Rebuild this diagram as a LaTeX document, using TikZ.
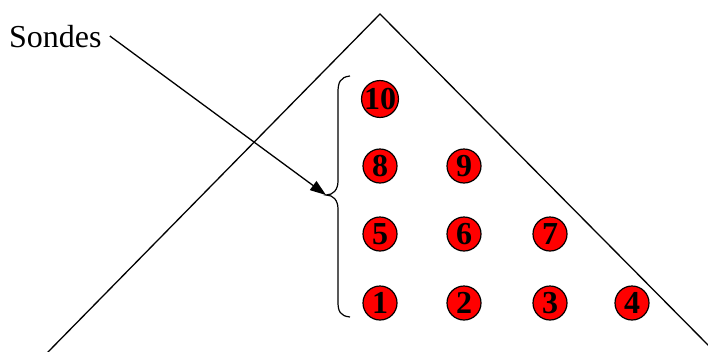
\documentclass[tikz,border=0pt]{standalone}
\usepackage{fontspec}
\setmainfont{Liberation Serif}
\usetikzlibrary{arrows.meta}
\begin{document}
\begin{tikzpicture}[x=1pt,y=-1pt,
  probe/.style={circle,draw=black,line width=1.2pt,fill=red,minimum size=34pt,inner sep=0pt,font=\fontsize{32}{32}\selectfont\bfseries},
  edge/.style={line width=1.3pt,black}]
\useasboundingbox (0,0) rectangle (708,351);
% triangle
\coordinate (apex) at (380,14);
\coordinate (bl) at (47,353);
\coordinate (br) at (710,347);
\draw[edge] (bl) -- (apex) -- (br);
% probes
\node[probe] (p10) at (380,99) {\kern-1pt10\kern-1pt};
\node[probe] (p8) at (380,166) {8};
\node[probe] (p9) at (464,166) {9};
\node[probe] (p5) at (380,234) {5};
\node[probe] (p6) at (464,234) {6};
\node[probe] (p7) at (550,234) {7};
\node[probe] (p1) at (380,303) {1};
\node[probe] (p2) at (464,303) {2};
\node[probe] (p3) at (550,303) {3};
\node[probe] (p4) at (632,303) {4};
% brace
\coordinate (btop) at (350,76);
\coordinate (btip) at (326,195);
\coordinate (bbot) at (350,317);
\draw[edge,line width=1.2pt] (btop) .. controls (340,77) and (338,83) .. (338,92)
  -- (338,181) .. controls (338,190) and (333,195) .. (btip)
  .. controls (333,195) and (338,200) .. (338,209)
  -- (338,302) .. controls (338,311) and (340,316) .. (bbot);
% label and arrow
\node[anchor=west,inner sep=0pt,font=\fontsize{32}{32}\selectfont] (sondes) at (9,37) {Sondes};
\draw[edge,-{Triangle[length=16pt,width=11pt]}] (sondes.east) ++(8,-1) coordinate (s0) (s0) -- (btip);
\end{tikzpicture}
\end{document}
